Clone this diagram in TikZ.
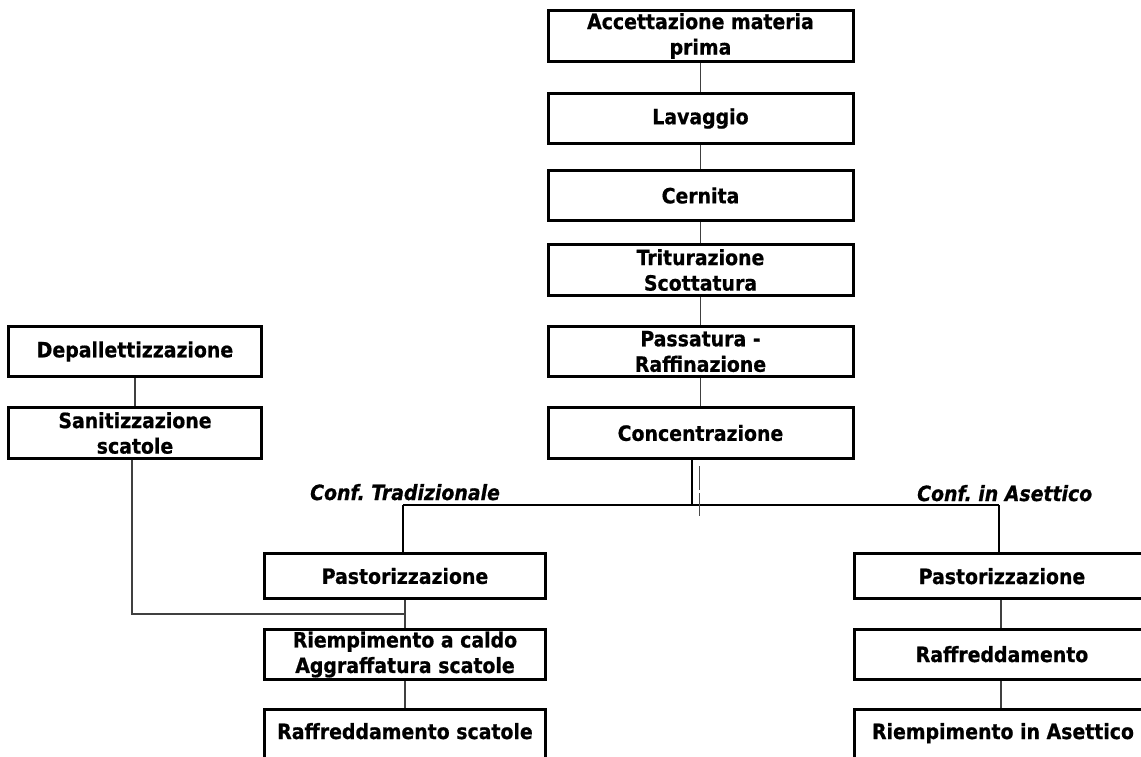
\documentclass[tikz,border=0pt]{standalone}
\usepackage{fontspec}
\setmainfont{DejaVu Sans Condensed}[
  BoldFeatures={FakeBold=0.7},
  BoldItalicFeatures={FakeBold=0.7}]
\usetikzlibrary{calc}
\begin{document}
\frenchspacing
\begin{tikzpicture}[x=1pt,y=-1pt,
  every node/.style={font=\fontsize{21}{25.5}\selectfont\bfseries},
  box/.style={draw=black, line width=3pt, rectangle, inner sep=0pt, align=center, fill=white},
  link/.style={draw=black!75, line width=1.3pt},
  branch/.style={draw=black, line width=2.6pt},
  lbl/.style={font=\fontsize{21}{25}\selectfont\bfseries\itshape, inner sep=0pt}]
  \useasboundingbox (0,0) rectangle (1141,756);
  \fill[white] (0,0) rectangle (1141,756);
  \clip (0,0) rectangle (1141,756);

  % main processing line
  \node[box, minimum width=305, minimum height=51] (acc) at (700.5,36)    {Accettazione materia\\prima};
  \node[box, minimum width=305, minimum height=50] (lav) at (700.5,118.5) {Lavaggio};
  \node[box, minimum width=305, minimum height=50] (cer) at (700.5,195.5) {Cernita};
  \node[box, minimum width=305, minimum height=51] (tri) at (700.5,270)   {Triturazione\\Scottatura};
  \node[box, minimum width=305, minimum height=50] (pas) at (700.5,351.5) {Passatura -\\Raffinazione};
  \node[box, minimum width=305, minimum height=51] (con) at (700.5,433)   {Concentrazione};

  % can preparation
  \node[box, minimum width=253, minimum height=50] (dep) at (135,351.5) {Depallettizzazione};
  \node[box, minimum width=253, minimum height=51] (san) at (135,433)   {Sanitizzazione\\scatole};

  % traditional packaging
  \node[box, minimum width=281, minimum height=45] (pasL) at (405,576)   {Pastorizzazione};
  \node[box, minimum width=281, minimum height=50] (riL)  at (405,654.5) {Riempimento a caldo\\Aggraffatura scatole};
  \node[box, minimum width=281, minimum height=60] (rafL) at (405,739.5) {};
  \node[anchor=base] (rafLt) at (405,739) {Raffreddamento scatole};

  % aseptic packaging
  \node[box, minimum width=300, minimum height=45] (pasR) at (1004,576)   {};
  \node[anchor=base] (pasRt) at (1002,584) {Pastorizzazione};
  \node[box, minimum width=300, minimum height=50] (rafR) at (1004,654.5) {};
  \node[anchor=base] (rafRt) at (1002,662) {Raffreddamento};
  \node[box, minimum width=300, minimum height=60] (riR)  at (1004,739.5) {};
  \node[anchor=base] (riRt) at (1003,739) {Riempimento in Asettico};

  % connectors of the main line
  \draw[link] (acc) -- (lav);
  \draw[link] (lav) -- (cer);
  \draw[link] (cer) -- (tri);
  \draw[link] (tri) -- (pas);
  \draw[link] (pas) -- (con);
  \draw[link] (dep) -- (san);

  % split after concentration
  \coordinate (bj) at (692,505);
  \coordinate (bl) at (403,505);
  \coordinate (br) at (999,505);
  \draw[branch] ([xshift=-8.5pt]con.south) -- (bj);
  \draw[branch] (bl) -- (br);
  \draw[branch] (bl) -- (bl |- pasL.north);
  \draw[branch] (br) -- (br |- pasR.north);
  \coordinate (g1) at (699,466);
  \coordinate (g2) at (699,490);
  \coordinate (g3) at (699,493);
  \coordinate (g4) at (699,516);
  \draw[draw=black!70, line width=1pt] (g1) -- (g2) (g3) -- (g4);

  \node[lbl, anchor=base west] (lt) at (310,500) {Conf. Tradizionale};
  \node[lbl, anchor=base west] (la) at (917,501) {Conf. in Asettico};

  % cans joining the traditional line
  \coordinate (jL) at (405,614);
  \draw[link] ([xshift=-3pt]san.south) |- (jL);
  \draw[link] (pasL) -- (riL);
  \draw[link] (riL) -- (rafL);

  % aseptic line connectors
  \draw[link] ([xshift=-3pt]pasR.south) -- ([xshift=-3pt]rafR.north);
  \draw[link] ([xshift=-3pt]rafR.south) -- ([xshift=-3pt]riR.north);
\end{tikzpicture}
\end{document}
